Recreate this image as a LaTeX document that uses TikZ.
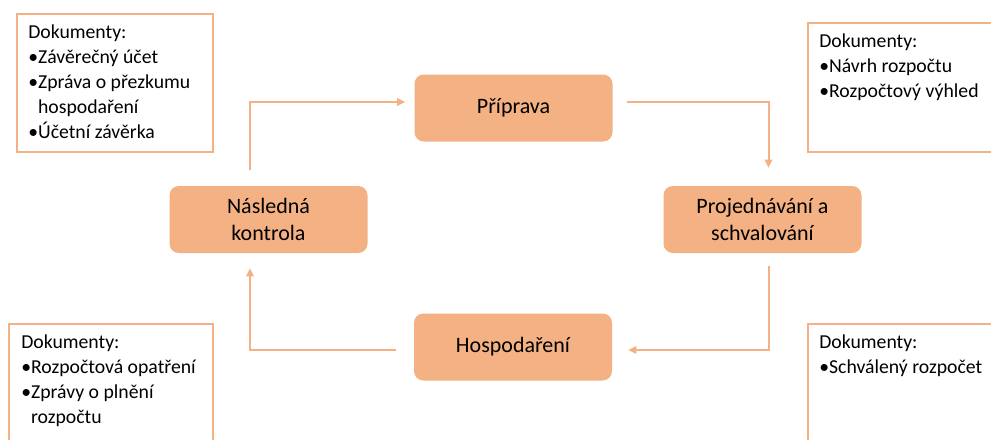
\documentclass[tikz,border=0pt]{standalone}
\usepackage{fontspec}
\setmainfont{Carlito}
\usetikzlibrary{arrows.meta}

\definecolor{peach}{HTML}{F4B183}

\begin{document}
\begin{tikzpicture}[x=0.75pt, y=-0.75pt,
      phase/.style={
        fill=peach,
        rounded corners=7pt,
        minimum width=148.5pt,
        minimum height=50.25pt,
        align=center,
        font=\fontsize{16.5}{20}\selectfont},
      flow/.style={
        draw=peach,
        line width=1.5pt,
        -{Triangle[length=6pt,width=5.5pt]}},
      docs/.style={
        draw=peach,
        line width=1.2pt,
        anchor=north west,
        inner sep=0pt},
      doctext/.style={
        anchor=north west,
        align=left,
        inner sep=0pt,
        font=\fontsize{14.8}{18.75}\selectfont}]
    \useasboundingbox (0,0) rectangle (991,439);
    \clip (0,0) rectangle (991,439);

    \node[phase] (P) at (513.5,108)   {Příprava};
    \node[phase] (S) at (762.5,219.5) {Projednávání a\\schvalování};
    \node[phase] (H) at (513,347)     {Hospodaření};
    \node[phase] (K) at (268.5,219.5) {Následná\\kontrola};

    \draw [flow, shorten <=12pt, shorten >=6.75pt]
      ([xshift=-13.9pt]K.north) |- ([yshift=4.5pt]P.west);
    \draw [flow, shorten <=10.5pt, shorten >=13.5pt]
      ([yshift=4.5pt]P.east) -| ([xshift=4.5pt]S.north);
    \draw [flow, shorten <=9.75pt, shorten >=12pt]
      ([xshift=4.5pt]S.south) |- ([yshift=-2.25pt]H.east);
    \draw [flow, shorten <=13.5pt, shorten >=11.25pt]
      ([yshift=-2.25pt]H.west) -| ([xshift=-13.9pt]K.south);

    \node[docs, minimum width=147pt, minimum height=103.5pt] (DK) at (16,13) {};
    \node[docs, minimum width=150pt, minimum height=96.75pt] (DP) at (807,22) {};
    \node[docs, minimum width=153pt, minimum height=105pt]   (DH) at (8,323) {};
    \node[docs, minimum width=150pt, minimum height=105pt]   (DS) at (807,323) {};

    \node[doctext] (TK) at ([xshift=9pt, yshift=-9pt]DK.north west)
      {Dokumenty:\\•Závěrečný účet\\•Zpráva o přezkumu\\\hphantom{•}hospodaření\\•Účetní závěrka};
    \node[doctext] (TP) at ([xshift=9pt, yshift=-9pt]DP.north west)
      {Dokumenty:\\•Návrh rozpočtu\\•Rozpočtový výhled};
    \node[doctext] (TH) at ([xshift=9.75pt, yshift=-9pt]DH.north west)
      {Dokumenty:\\•Rozpočtová opatření\\•Zprávy o plnění\\\hphantom{•}rozpočtu};
    \node[doctext] (TS) at ([xshift=9pt, yshift=-9pt]DS.north west)
      {Dokumenty:\\•Schválený rozpočet};
  \end{tikzpicture}
\end{document}
